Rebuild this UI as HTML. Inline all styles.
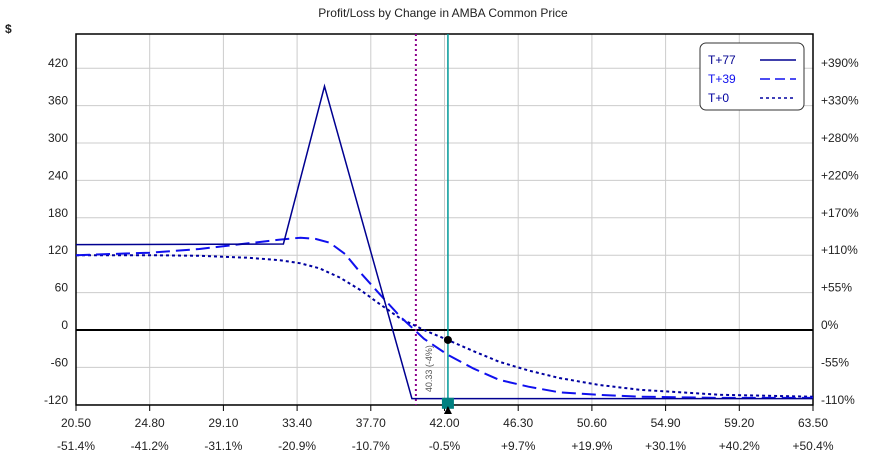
<!DOCTYPE html>
<html><head><meta charset="utf-8"><style>
body{margin:0;background:#fff;}
svg text{font-family:"Liberation Sans",sans-serif;font-size:12px;fill:#222;}
</style></head><body>
<svg id="c" width="887" height="463"></svg>
<script>
const xTicks=[20.5,24.8,29.1,33.4,37.7,42.0,46.3,50.6,54.9,59.2,63.5];
const xPct=["-51.4%","-41.2%","-31.1%","-20.9%","-10.7%","-0.5%","+9.7%","+19.9%","+30.1%","+40.2%","+50.4%"];
const yTicks=[420,360,300,240,180,120,60,0,-60,-120];
const yPct=["+390%","+330%","+280%","+220%","+170%","+110%","+55%","0%","-55%","-110%"];
const t77Price=[20.5,32.6,35.0,40.1,63.5];
const t77Val=[137,138,391,-110,-110];
const t39Price=[20.5,24.8,27.7,30.5,32.4,33.6,34.5,35.3,36.2,37.1,38.2,39.4,40.8,42.2,43.7,45.2,46.9,48.7,51.0,53.4,58.1,63.5];
const t39Val=[120,124,130,139,145,148,146,140,122,92,58,22,-14,-40,-62,-80,-91,-100,-104,-107,-109,-109];
const t0Price=[20.5,24.8,27.7,30.5,32.4,33.6,34.7,35.9,37.1,38.2,39.4,40.8,42.2,43.7,45.2,46.9,48.7,51.0,53.4,58.1,63.5];
const t0Val=[120,120,119,116,112,107,99,84,64,42,19,0,-16,-34,-51,-65,-77,-88,-96,-104,-107];
const breakeven=40.33, current=42.2, currentVal=-16;
const L=76,R=813,T=34,B=405;
const X=p=>L+(p-20.5)/(63.5-20.5)*(R-L);
const Y=v=>330-v*(37.4/60);
const s=document.getElementById('c');const NS="http://www.w3.org/2000/svg";
function mk(t,a,txt){const e=document.createElementNS(NS,t);for(const k in a)e.setAttribute(k,a[k]);if(txt!==undefined)e.textContent=txt;s.appendChild(e);return e;}
let e;
e=mk('text',{x:443,y:17,'text-anchor':'middle'},'Profit/Loss by Change in AMBA Common Price');

e=mk('text',{x:5,y:33,'font-weight':'bold'},'$');

xTicks.forEach((p,i)=>{
 e=mk('line',{x1:X(p),x2:X(p),y1:T,y2:B,stroke:'#ccc'});
 
 e=mk('line',{x1:X(p),x2:X(p),y1:B,y2:B+6,stroke:'#000'});
 
 e=mk('text',{x:X(p),y:427,'text-anchor':'middle'},p.toFixed(2));
 
 e=mk('text',{x:X(p),y:450,'text-anchor':'middle'},xPct[i]);
 
});
yTicks.forEach((v,i)=>{
 e=mk('line',{x1:L,x2:R,y1:Y(v),y2:Y(v),stroke:v===0?'#000':'#ccc','stroke-width':v===0?2:1});
 
 e=mk('text',{x:68,y:Y(v)-1,'text-anchor':'end'},String(v));
 
 e=mk('text',{x:821,y:Y(v)-1},yPct[i]);
 
});
e=mk('rect',{x:L,y:T,width:R-L,height:B-T,fill:'none',stroke:'#000','stroke-width':1.5});

function path(px,vs){return px.map((p,i)=>(i?'L':'M')+X(p).toFixed(1)+','+Y(vs[i]).toFixed(1)).join(' ');}
e=mk('line',{x1:X(breakeven),x2:X(breakeven),y1:T,y2:B,stroke:'#8b008b','stroke-width':2,'stroke-dasharray':'2,3'});

e=mk('line',{x1:X(current),x2:X(current),y1:T,y2:B,stroke:'#009999','stroke-width':1.5});

e=mk('path',{d:path(t0Price,t0Val),fill:'none',stroke:'#0000a0','stroke-width':2,'stroke-dasharray':'3,3'});

e=mk('path',{d:path(t39Price,t39Val),fill:'none',stroke:'#1010ee','stroke-width':2,'stroke-dasharray':'14,6'});

e=mk('path',{d:path(t77Price,t77Val),fill:'none',stroke:'#000090','stroke-width':1.5});

e=mk('text',{x:0,y:0,transform:`translate(${X(breakeven)+16},${Y(-62)}) rotate(-90)`,'text-anchor':'middle','font-size':'9',style:'fill:#555;font-size:9px'},'40.33 (-4%)');

e=mk('circle',{cx:X(current),cy:Y(currentVal),r:4,fill:'#000'});

e=mk('rect',{x:X(current)-6,y:Y(-120)-7,width:12,height:11,fill:'#008080'});

e=mk('path',{d:`M${X(current)-4},${B+9} L${X(current)+4},${B+9} L${X(current)},${B+1} Z`,fill:'#000'});

e=mk('rect',{x:700,y:43,width:104,height:67,rx:6,fill:'#fff',stroke:'#333'});

[['T+77','#000090','','0'],['T+39','#1010ee','10,5','0'],['T+0','#0000a0','3,3','0']].forEach((l,i)=>{
 const y=60+i*19;
 e=mk('text',{x:708,y:y+4,fill:l[1],style:'fill:'+l[1]},l[0]);
 
 e=mk('line',{x1:760,x2:796,y1:y,y2:y,stroke:l[1],'stroke-width':1.5,'stroke-dasharray':l[2]});
 
});
</script>
</body></html>
